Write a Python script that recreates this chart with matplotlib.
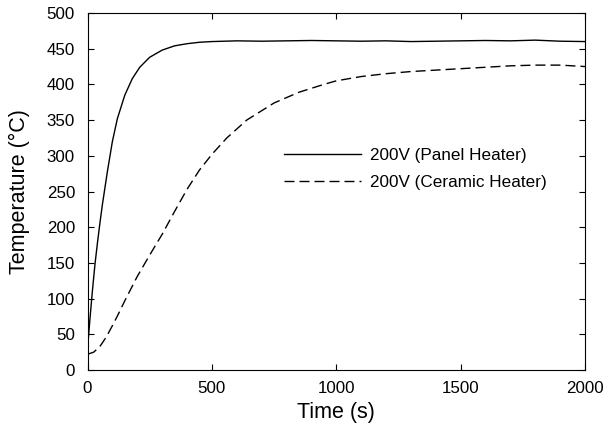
import numpy as np
import matplotlib
matplotlib.use("Agg")
import matplotlib.pyplot as plt

plt.rcParams['font.family'] = ['Liberation Sans', 'DejaVu Sans']

# Panel heater (solid)
panel_t = [0, 10, 20, 30, 40, 50, 60, 80, 100, 120, 150, 180, 210, 250, 300, 350,
           400, 450, 500, 600, 700, 800, 900, 1000, 1100, 1200, 1300, 1400, 1500,
           1600, 1700, 1800, 1900, 2000]
panel_T = [30, 72, 112, 148, 178, 206, 232, 278, 320, 352, 385, 408, 424, 438, 448, 454,
           457, 459, 460, 461, 460.5, 461, 461.5, 461, 460.5, 461, 460, 460.5, 461,
           461.5, 461, 462, 460.5, 460]

# Ceramic heater (dashed)
ceramic_t = [0, 25, 50, 75, 100, 125, 150, 200, 250, 300, 350, 400, 450, 500, 560, 640,
             750, 850, 950, 1000, 1100, 1200, 1300, 1400, 1500, 1600, 1700, 1800, 1900, 2000]
ceramic_T = [22, 25, 33, 46, 62, 79, 97, 131, 161, 190, 222, 253, 280, 302, 325, 350,
             374, 389, 400, 405, 411, 415, 418, 420, 422, 424, 426, 427, 427, 425]

labels = ["200V (Panel Heater)", "200V (Ceramic Heater)"]

fig = plt.figure(figsize=(6.07, 4.29), dpi=100)
ax = fig.add_axes([87.5/607, 59/429, 497.5/607, 357/429])

ax.plot(panel_t, panel_T, color='black', lw=1.0, label=labels[0])
ax.plot(ceramic_t, ceramic_T, color='black', lw=1.0, dashes=(7.2, 3.6), label=labels[1])

ax.set_xlim(0, 2000)
ax.set_ylim(0, 500)
ax.set_xticks(np.arange(0, 2001, 500))
ax.set_yticks(np.arange(0, 501, 50))
ax.tick_params(direction='in', top=True, right=True, labelsize=12.2, length=4, width=0.8)
ax.tick_params(axis='y', pad=9)
ax.tick_params(axis='x', pad=8)
ax.set_xlabel("Time (s)", fontsize=15.5, labelpad=4)
ax.set_ylabel("Temperature (°C)", fontsize=15.5, labelpad=12)

ax.legend(loc='upper left', bbox_to_anchor=(0.3805, 0.64), frameon=False,
          fontsize=12.3, handlelength=4.5, labelspacing=0.7, handletextpad=0.55,
          borderaxespad=0)

fig.savefig("out.png", dpi=100)
